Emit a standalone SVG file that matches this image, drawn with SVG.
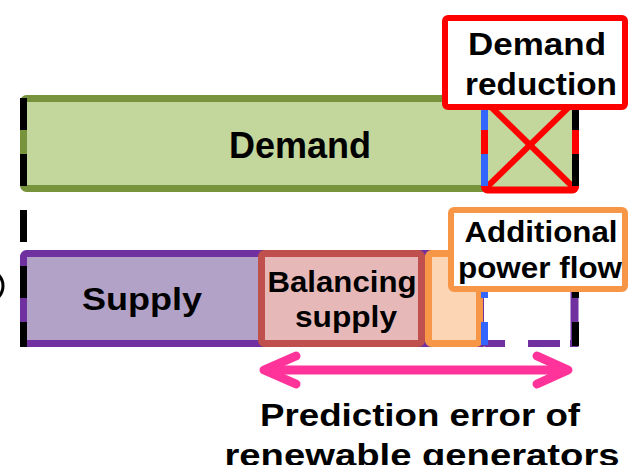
<svg xmlns="http://www.w3.org/2000/svg" width="630" height="465" viewBox="0 0 630 465">
<style>
text{font-family:"Liberation Sans",Arial,sans-serif;font-weight:bold;fill:#000;text-anchor:middle}
.bar{stroke-width:7;stroke-linejoin:round}
.dash{stroke-width:7;stroke-dasharray:32 24;fill:none}
.lbl{fill:#fff;stroke-width:6}
</style>
<rect width="630" height="465" fill="#fff"/>
<g id="marker-left">
<circle cx="-13" cy="286" r="16" fill="none" stroke="#000" stroke-width="3"/>
</g>
<g id="demand">
<rect class="bar" x="23.5" y="98.5" width="462" height="90" rx="3" fill="#C3D69B" stroke="#77933C"/>
<text x="300" y="158" font-size="36">Demand</text>
</g>
<g id="demand-reduction-area">
<rect class="bar" x="484.5" y="100" width="91" height="90" rx="3" fill="#C3D69B" stroke="#FF0000"/>
<line x1="487" y1="103" x2="573" y2="187" stroke="#FF0000" stroke-width="6"/>
<line x1="573" y1="103" x2="487" y2="187" stroke="#FF0000" stroke-width="6"/>
</g>
<g id="supply">
<rect class="bar" x="23.5" y="253.5" width="462" height="90" rx="3" fill="#B3A2C7" stroke="#7030A0"/>
<text x="142" y="310" font-size="32" textLength="120" lengthAdjust="spacingAndGlyphs">Supply</text>
</g>
<g id="unbalanced-area">
<rect x="484" y="250" width="91.5" height="93.5" fill="#fff"/>
<line x1="485" y1="343.5" x2="575" y2="343.5" stroke="#7030A0" stroke-width="7" stroke-dasharray="20 23 32 10"/>
<line x1="574.5" y1="250" x2="574.5" y2="347" stroke="#7030A0" stroke-width="8"/>
</g>
<g id="balancing-supply">
<rect class="bar" x="261.5" y="253.5" width="160" height="90" rx="3" fill="#E6B9B8" stroke="#C0504D"/>
<text x="342" y="292" font-size="30" textLength="149" lengthAdjust="spacingAndGlyphs">Balancing</text>
<text x="346" y="327" font-size="30" textLength="102" lengthAdjust="spacingAndGlyphs">supply</text>
</g>
<g id="additional-flow">
<rect class="bar" x="428.5" y="253.5" width="51" height="90" rx="3" fill="#FCD5B5" stroke="#F79646"/>
</g>
<g id="connectors">
<line class="dash" x1="23.5" y1="98" x2="23.5" y2="347" stroke="#000"/>
<line class="dash" x1="484.5" y1="98" x2="484.5" y2="345" stroke="#3366FF" stroke-width="5"/>
<line class="dash" x1="575.5" y1="98" x2="575.5" y2="346" stroke="#000"/>
<g stroke="#FF3399" stroke-width="9" stroke-linecap="round" stroke-linejoin="round" fill="none">
<line x1="268" y1="370" x2="564" y2="370"/>
<polyline points="296,356 264,370 296,384"/>
<polyline points="537,356 568,370 537,384"/>
</g>
</g>
<g id="demand-reduction-label">
<rect class="lbl" x="445" y="18" width="180" height="89" rx="3" stroke="#FF0000"/>
<text x="537" y="55" font-size="31" textLength="138" lengthAdjust="spacingAndGlyphs">Demand</text>
<text x="541" y="95" font-size="31" textLength="152" lengthAdjust="spacingAndGlyphs">reduction</text>
</g>
<g id="additional-power-flow-label">
<rect class="lbl" x="451" y="210" width="174" height="79" rx="3" stroke="#F79646"/>
<text x="541" y="242" font-size="29" textLength="153" lengthAdjust="spacingAndGlyphs">Additional</text>
<text x="540" y="278" font-size="29" textLength="164" lengthAdjust="spacingAndGlyphs">power flow</text>
</g>
<g id="prediction-error-label">
<text x="420" y="426" font-size="32" textLength="320" lengthAdjust="spacingAndGlyphs">Prediction error of</text>
<text x="422" y="466" font-size="32" textLength="395" lengthAdjust="spacingAndGlyphs">renewable generators</text>
</g>
</svg>
